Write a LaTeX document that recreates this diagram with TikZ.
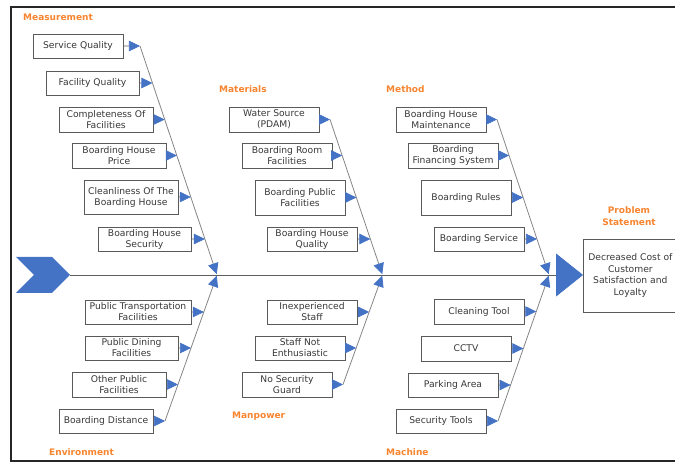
\documentclass[tikz,border=0pt]{standalone}
\usepackage{fontspec}
\setmainfont{DejaVu Sans}
\usetikzlibrary{arrows.meta}
\definecolor{fblue}{HTML}{4472C4}
\definecolor{forange}{HTML}{F7842F}
\definecolor{boxline}{HTML}{5A5A5A}
\definecolor{txt}{HTML}{383838}
\definecolor{ribline}{HTML}{858585}
\definecolor{spineline}{HTML}{5E5E5E}

\begin{document}
\begin{tikzpicture}[x=1pt,y=-1pt,
  cbox/.style={draw=boxline, line width=0.7pt, fill=white, text=txt, align=center,
    inner sep=0pt, minimum width=90pt, minimum height=24pt,
    font=\fontsize{9.2}{11}\selectfont},
  cat/.style={text=forange, font=\bfseries\fontsize{9}{12}\selectfont,
    inner sep=0pt, anchor=west},
  tipshape/.style={-{Triangle[length=11pt,width=10.5pt,color=fblue]}},
  cause/.style={draw=spineline, line width=0.6pt, tipshape},
  rib/.style={draw=ribline, line width=0.8pt, tipshape},
]
\useasboundingbox (0,0) rectangle (675,462);

% frame
\draw[line width=1.6pt, black!85] (680,7) -- (11,7) -- (11,461) -- (680,461);

% tail chevron and problem box
\fill[fblue] (16,257) -- (52,257) -- (70,275) -- (52,293) -- (16,293) -- (34,275) -- cycle;
\coordinate (tail) at (70,275);
\node[draw=boxline, line width=0.7pt, text=txt, align=center, inner sep=0pt,
  minimum width=94pt, minimum height=73pt, anchor=west,
  font=\fontsize{9.2}{11.6}\selectfont] (prob) at (583,275.5)
  {\raisebox{-1.5pt}{\parbox{92pt}{\centering Decreased Cost of\\Customer\\Satisfaction and\\Loyalty}}};
\node[cat, anchor=center, align=center, font=\bfseries\fontsize{9}{12}\selectfont]
  (lprob) at (629,216) {Problem\\Statement};

% spine
\draw[draw=spineline, line width=0.8pt,
  -{Triangle[length=27pt,width=43pt,color=fblue]}] (tail) -- (prob.west |- tail);

% category labels
\node[cat] (lmeas) at (23,17) {Measurement};
\node[cat] (lmat)  at (219,89) {Materials};
\node[cat] (lmeth) at (386,89) {Method};
\node[cat] (lman)  at (232,416) {Manpower};
\node[cat] (lenv)  at (49,452) {Environment};
\node[cat] (lmach) at (386,452) {Machine};

% junctions on the spine and free ends of the ribs
\coordinate (j1) at (217,275);
\coordinate (j2) at (382.5,275);
\coordinate (j3) at (549,275);
\coordinate (mt) at (140,46);
\coordinate (at) at (330,119.5);
\coordinate (dt) at (497,119.5);
\coordinate (eb) at (165,421);
\coordinate (pb) at (343,384.5);
\coordinate (cb) at (498,421);

% Measurement
\node[cbox] (m1) at (78,46) {Service Quality};
\node[cbox, minimum width=93pt] (m2) at (92.5,83) {Facility Quality};
\node[cbox, minimum width=94pt, minimum height=25pt] (m3) at (106,119.5) {Completeness Of\\Facilities};
\node[cbox, minimum width=94pt, minimum height=25pt] (m4) at (119,155.5) {Boarding House\\Price};
\node[cbox, minimum width=94pt, minimum height=34pt] (m5) at (131,197) {Cleanliness Of The\\Boarding House};
\node[cbox, minimum width=93pt] (m6) at (144.5,239) {Boarding House\\Security};

% Materials
\node[cbox, minimum height=25pt] (a1) at (274,119.5) {Water Source\\(PDAM)};
\node[cbox, minimum height=25pt] (a2) at (287,155.5) {Boarding Room\\Facilities};
\node[cbox, minimum height=35pt] (a3) at (300,197.5) {Boarding Public\\Facilities};
\node[cbox] (a4) at (312,239) {Boarding House\\Quality};

% Method
\node[cbox, minimum height=25pt] (d1) at (441,119.5) {Boarding House\\Maintenance};
\node[cbox, minimum height=25pt] (d2) at (453,155.5) {Boarding\\Financing System};
\node[cbox, minimum height=35pt] (d3) at (466,197.5) {Boarding Rules};
\node[cbox] (d4) at (479,239) {Boarding Service};

% Environment
\node[cbox, minimum width=106pt] (e1) at (138,312) {Public Transportation\\Facilities};
\node[cbox, minimum width=93pt] (e2) at (131.5,348) {Public Dining\\Facilities};
\node[cbox, minimum width=94pt, minimum height=25pt] (e3) at (119,384.5) {Other Public\\Facilities};
\node[cbox, minimum width=94pt] (e4) at (106,421) {Boarding Distance};

% Manpower
\node[cbox] (p1) at (312,312) {Inexperienced\\Staff};
\node[cbox] (p2) at (300,348) {Staff Not\\Enthusiastic};
\node[cbox, minimum height=25pt] (p3) at (287,384.5) {No Security\\Guard};

% Machine
\node[cbox, minimum height=25pt] (c1) at (479,311.5) {Cleaning Tool};
\node[cbox, minimum height=25pt] (c2) at (466,348.5) {CCTV};
\node[cbox] (c3) at (453,385) {Parking Area};
\node[cbox] (c4) at (441,421) {Security Tools};

% ribs
\draw[rib, shorten >=0.8pt] (mt) -- (j1);
\draw[rib, shorten >=0.8pt] (at) -- (j2);
\draw[rib, shorten >=0.8pt] (dt) -- (j3);
\draw[rib, shorten >=0.8pt] (eb) -- (j1);
\draw[rib, shorten >=0.8pt] (pb) -- (j2);
\draw[rib, shorten >=0.8pt] (cb) -- (j3);

% cause arrows, each ending on its rib
\foreach \n in {m1,m2,m3,m4,m5,m6} {
  \coordinate (\n t) at (intersection of mt--j1 and \n.west--\n.east);
  \draw[cause] (\n.east) -- (\n t);
}
\foreach \n in {a1,a2,a3,a4} {
  \coordinate (\n t) at (intersection of at--j2 and \n.west--\n.east);
  \draw[cause] (\n.east) -- (\n t);
}
\foreach \n in {d1,d2,d3,d4} {
  \coordinate (\n t) at (intersection of dt--j3 and \n.west--\n.east);
  \draw[cause] (\n.east) -- (\n t);
}
\foreach \n in {e1,e2,e3,e4} {
  \coordinate (\n t) at (intersection of eb--j1 and \n.west--\n.east);
  \draw[cause] (\n.east) -- (\n t);
}
\foreach \n in {p1,p2,p3} {
  \coordinate (\n t) at (intersection of pb--j2 and \n.west--\n.east);
  \draw[cause] (\n.east) -- (\n t);
}
\foreach \n in {c1,c2,c3,c4} {
  \coordinate (\n t) at (intersection of cb--j3 and \n.west--\n.east);
  \draw[cause] (\n.east) -- (\n t);
}
\end{tikzpicture}
\end{document}
